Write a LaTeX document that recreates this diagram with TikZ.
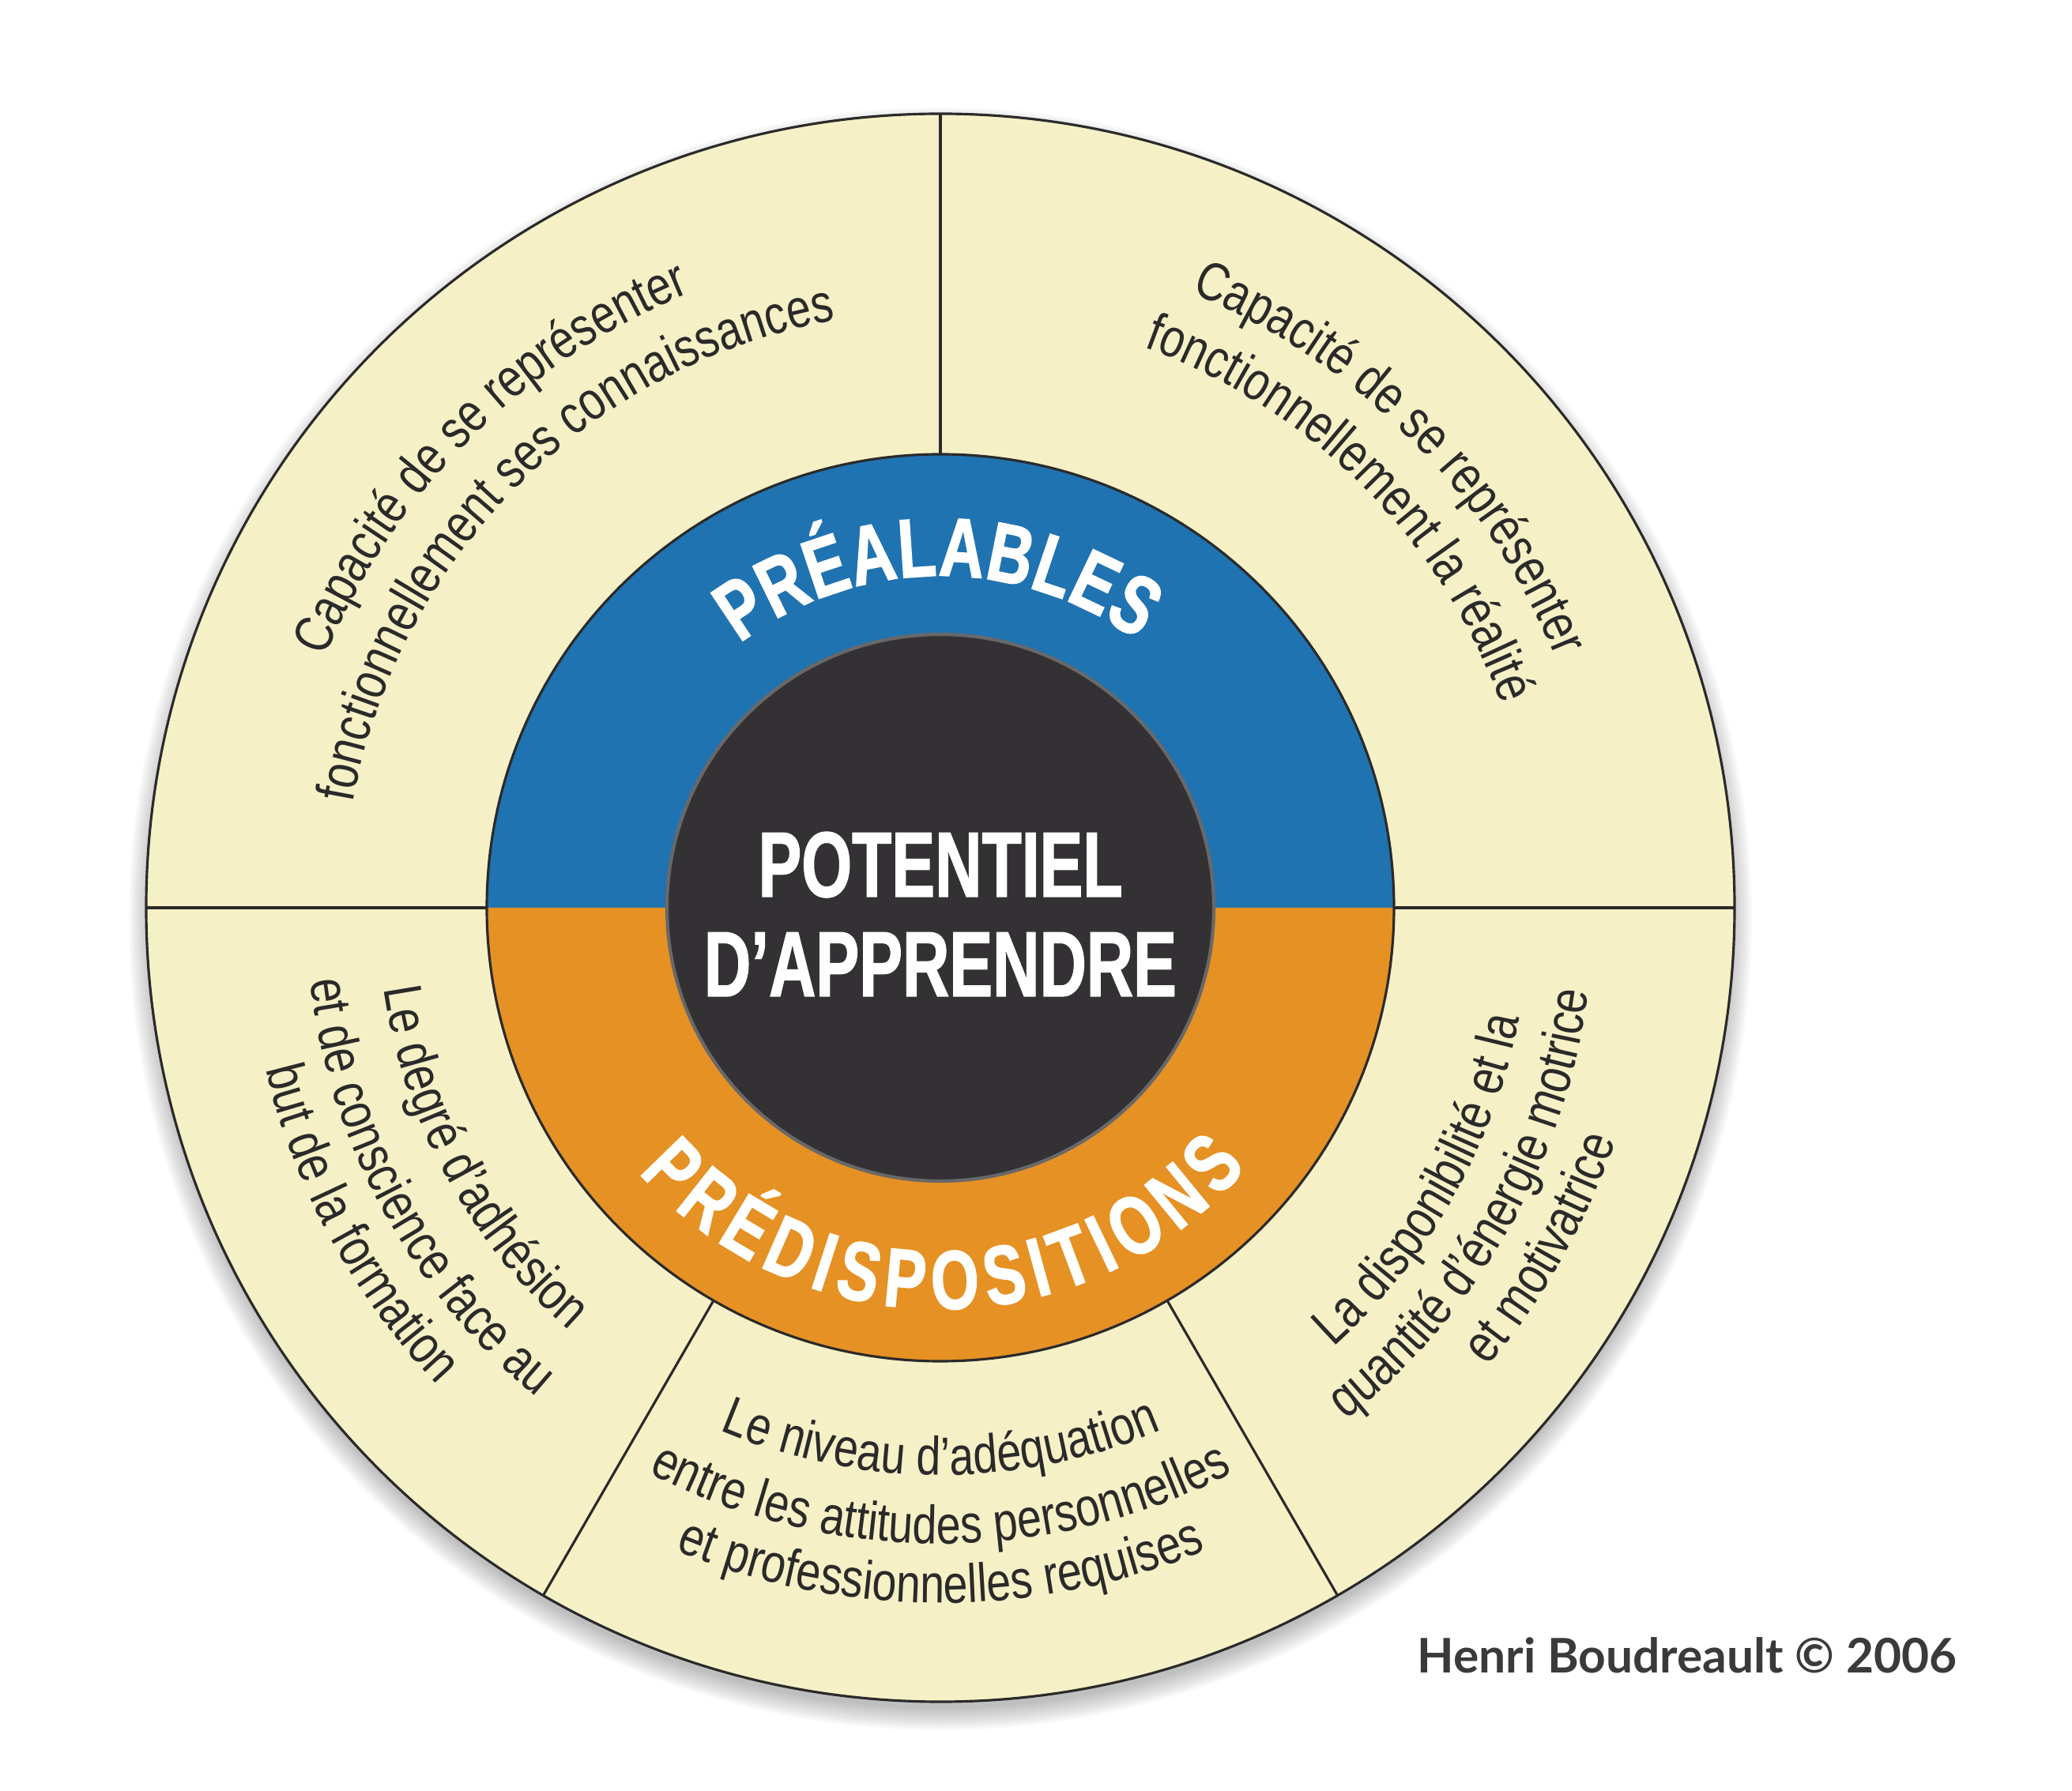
\documentclass[tikz,border=0pt]{standalone}
\usepackage{fontspec}
\setmainfont{Liberation Sans}
\newfontfamily\outerfont{Liberation Sans}[FakeStretch=0.81]
\newfontfamily\ringfont{Liberation Sans}[UprightFont=* Bold, FakeStretch=0.74, FakeBold=1.6]
\newfontfamily\corefont{Liberation Sans}[UprightFont=* Bold, FakeStretch=0.70, FakeBold=1.2]
\newfontfamily\signfont{Lato}
\usetikzlibrary{decorations.text}

\definecolor{cream}{HTML}{F6F0C6}
\definecolor{preblue}{HTML}{2073B1}
\definecolor{predorange}{HTML}{E69124}
\definecolor{coredark}{HTML}{333134}
\definecolor{inkgray}{HTML}{2A2A2A}
\definecolor{signgray}{HTML}{3A3A3A}

\begin{document}
\begin{tikzpicture}[
            sector line/.style = {draw=inkgray, line width=0.9pt}, % dividing lines
            outer text/.style = {decorate, decoration={text along path,
                text align=center, text color=inkgray,
                text={|\outerfont\fontsize{19.5pt}{24pt}\selectfont|#1}}},
            ring text/.style = {decorate, decoration={text along path,
                text align=fit to path, text color=white,
                text={|\ringfont\fontsize{30pt}{34pt}\selectfont|#1}}},
            core text/.style = {anchor=base, inner sep=0pt, text=white,
                font=\corefont\fontsize{33.4pt}{36pt}\selectfont}
        ]

        \useasboundingbox (-11.90,-11.18) rectangle (14.32,11.49);

        % soft shadow under the disc
        \foreach \k in {1,...,12}
            \fill[black, opacity=0.025] (0,-0.14) circle ({9.97+0.025*\k});

        % outer ring
        \fill[cream] (0,0) circle (10.05);
        \draw[sector line] (0,0) circle (10.05);
        \draw[sector line] (90:5.74) -- (90:10.05);
        \draw[sector line] (0:5.74) -- (0:10.05);
        \draw[sector line] (180:5.74) -- (180:10.05);
        \draw[sector line] (240:5.74) -- (240:10.05);
        \draw[sector line] (300:5.74) -- (300:10.05);

        % middle ring
        \fill[preblue] (5.74,0) arc[start angle=0, end angle=180, radius=5.74] -- cycle;
        \fill[predorange] (-5.74,0) arc[start angle=180, end angle=360, radius=5.74] -- cycle;
        \draw[sector line] (0,0) circle (5.74);

        % core
        \fill[coredark, draw=gray!70!coredark, line width=1.2pt] (0,0) circle (3.46);
        \node[core text] (potentiel) at (0,0.14) {POTENTIEL};
        \node[core text] (apprendre) at (0,-1.12) {D’APPRENDRE};

        \path[ring text={PRÉALABLES}] (127.2:4.20) arc[start angle=127.2, end angle=53.7, radius=4.20];
        \path[ring text={PRÉDISPOSITIONS}] (221.3:5.08) arc[start angle=221.3, end angle=319.7, radius=5.08];

        % top sectors
        \path[outer text={Capacité de se représenter}] (179:8.40) arc[start angle=179, end angle=91, radius=8.40];
        \path[outer text={fonctionnellement ses connaissances}] (179:7.55) arc[start angle=179, end angle=91, radius=7.55];
        \path[outer text={Capacité de se représenter}] (89:8.40) arc[start angle=89, end angle=1, radius=8.40];
        \path[outer text={fonctionnellement la réalité}] (89:7.55) arc[start angle=89, end angle=1, radius=7.55];

        % bottom sectors
        \path[outer text={Le degré d’adhésion}] (178.5:7.12) arc[start angle=178.5, end angle=238.5, radius=7.12];
        \path[outer text={et de conscience face au}] (178.5:8.03) arc[start angle=178.5, end angle=238.5, radius=8.03];
        \path[outer text={but de la formation}] (178.5:8.78) arc[start angle=178.5, end angle=238.5, radius=8.78];

        \path[outer text={Le niveau d’adéquation}] (230:7.18) arc[start angle=230, end angle=310, radius=7.18];
        \path[outer text={entre les attitudes personnelles}] (230:8.05) arc[start angle=230, end angle=310, radius=8.05];
        \path[outer text={et professionnelles requises}] (230:8.80) arc[start angle=230, end angle=310, radius=8.80];

        \path[outer text={La disponibilité et la}] (300.5:7.46) arc[start angle=300.5, end angle=360.5, radius=7.46];
        \path[outer text={quantité d’énergie motrice}] (300.5:8.27) arc[start angle=300.5, end angle=360.5, radius=8.27];
        \path[outer text={et motivatrice}] (300.5:9.04) arc[start angle=300.5, end angle=360.5, radius=9.04];

        \node[anchor=base west, inner sep=0pt, text=signgray,
            font=\signfont\bfseries\fontsize{17.2pt}{20pt}\selectfont] (sign) at (6.03,-9.68) {Henri Boudreault © 2006};
    \end{tikzpicture}
\end{document}
